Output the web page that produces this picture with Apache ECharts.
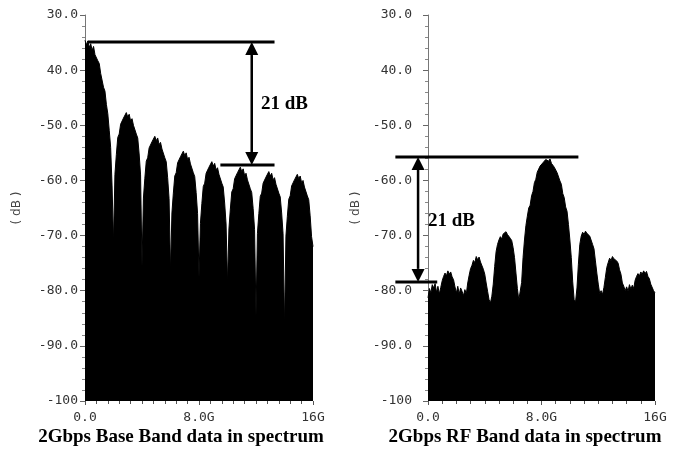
<!DOCTYPE html>
<html>
<head>
    <meta charset="utf-8">
    <title>2Gbps spectrum</title>
    <script src="https://cdn.jsdelivr.net/npm/echarts@6/dist/echarts.min.js"></script>
    <style>
        html, body { margin: 0; padding: 0; background: #fff; }
        #main { width: 690px; height: 450px; }
    </style>
</head>
<body>
<div id="main"></div>
<script>
    // 频率采样步长 (GHz)，数据从 0 开始
    var FREQ_STEP = 0.1;

    // 左图：基带频谱 (dB)，0.0G ~ 16.0G
    var baseBandLevels = [
        // 0.0 - 1.9
        -34.6, -35.4, -34.7, -35.9, -35.2, -36.4, -35.7, -37.2, -36.9, -38.3,
        -38.8, -40.6, -40.9, -43.1, -43.8, -46.2, -47.9, -50.9, -54.0, -61.0,
        // 2.0 - 3.9
        -71.2, -58.9, -55.3, -52.2, -51.6, -49.8, -50.1, -48.7, -49.0, -47.7,
        -48.5, -48.0, -49.2, -48.8, -50.0, -49.7, -51.6, -52.3, -55.2, -59.0,
        // 4.0 - 5.9
        -75.6, -63.2, -59.6, -56.5, -55.9, -54.1, -54.4, -53.0, -53.3, -52.0,
        -52.8, -52.3, -53.5, -53.1, -54.3, -54.0, -55.9, -56.6, -59.5, -63.3,
        // 6.0 - 7.9
        -76.5, -65.9, -62.3, -59.2, -58.6, -56.8, -57.1, -55.7, -56.0, -54.7,
        -55.5, -55.0, -56.2, -55.8, -57.0, -56.7, -58.6, -59.3, -62.2, -66.0,
        // 8.0 - 9.9
        -77.6, -67.8, -64.2, -61.1, -60.5, -58.7, -59.0, -57.6, -57.9, -56.6,
        -57.4, -56.9, -58.1, -57.7, -58.9, -58.6, -60.5, -61.2, -64.1, -67.9,
        // 10.0 - 11.9
        -78.7, -68.8, -65.2, -62.1, -61.5, -59.7, -60.0, -58.6, -58.9, -57.6,
        -58.4, -57.9, -59.1, -58.7, -59.9, -59.6, -61.5, -62.2, -65.1, -68.9,
        // 12.0 - 13.9
        -84.6, -69.6, -66.0, -62.9, -62.3, -60.5, -60.8, -59.4, -59.7, -58.4,
        -59.2, -58.7, -59.9, -59.5, -60.7, -60.4, -62.3, -63.0, -65.9, -69.7,
        // 14.0 - 15.9
        -86.6, -70.1, -66.5, -63.4, -62.8, -61.0, -61.3, -59.9, -60.2, -58.9,
        -59.7, -59.2, -60.4, -60.0, -61.2, -60.9, -62.8, -63.5, -66.4, -70.2,
        // 16.0
        -72.0
    ];

    // 右图：射频频谱 (dB)，0.0G ~ 16.0G
    var rfBandLevels = [
        -81.3, -79.6, -80.4, -78.9, -79.5, -78.7, -80.3, -79.2, -80.6, -79.4,
        -78.2, -77.4, -76.8, -77.3, -76.4, -77.0, -76.6, -77.5, -78.0, -79.3,
        -80.4, -79.2, -80.6, -79.5, -80.1, -80.9, -79.8, -80.6, -78.6, -77.2,
        -76.0, -75.4, -74.5, -74.9, -73.8, -74.4, -73.9, -74.8, -75.0, -76.1,
        -77.0, -78.6, -80.1, -81.6, -82.2, -81.0, -78.8, -75.6, -72.9, -71.6,
        -70.8, -70.2, -70.6, -69.7, -69.9, -69.3, -69.8, -69.6, -70.5, -70.9,
        -72.2, -74.0, -76.8, -79.6, -81.7, -81.5, -78.5, -74.0, -70.8, -68.2,
        -66.5, -65.0, -64.5, -62.8, -62.0, -60.4, -59.8, -58.5, -58.3, -57.4,
        -57.5, -56.8, -57.0, -56.2, -56.0, -56.5, -56.1, -56.9, -56.7, -57.6,
        -57.6, -58.6, -58.9, -60.1, -60.7, -62.4, -63.1, -64.8, -65.6, -68.0,
        -70.8, -74.0, -78.4, -81.6, -82.0, -79.5, -75.2, -71.6, -70.1, -69.4,
        -69.8, -69.2, -69.6, -69.4, -70.1, -70.3, -71.6, -72.4, -74.6, -76.8,
        -78.8, -80.5, -80.0, -80.7, -79.4, -77.6, -75.8, -74.9, -74.1, -74.5,
        -73.8, -74.2, -73.9, -74.6, -75.0, -76.2, -77.0, -78.6, -79.2, -80.0,
        -79.3, -80.1, -78.9, -79.7, -79.0, -79.6, -78.1, -77.4, -76.9, -77.3,
        -76.6, -77.0, -76.4, -76.9, -76.5, -77.4, -77.8, -78.8, -79.1, -80.0,
        -80.4
    ];

    // 坐标轴刻度文字
    var xTickLabels = {0: '0.0', 8: '8.0G', 16: '16G'};
    var yTickLabels = {
        '-30': '30.0', '-40': '40.0', '-50': '-50.0', '-60': '-60.0',
        '-70': '-70.0', '-80': '-80.0', '-90': '-90.0', '-100': '-100'
    };

    // 标注 ([频率, dB])
    var baseTopLine = [[0.2, -34.9], [13.3, -34.9]];
    var baseBottomLine = [[9.5, -57.2], [13.3, -57.2]];
    var baseArrow = [[11.7, -34.9], [11.7, -57.2]];
    var baseNote = [12.35, -46.1];
    var rfTopLine = [[-2.3, -55.75], [10.6, -55.75]];
    var rfBottomLine = [[-2.3, -78.4], [0.65, -78.4]];
    var rfArrow = [[-0.7, -55.75], [-0.7, -78.4]];
    var rfNote = [0.0, -67.4];
    var noteText = '21 dB';

    var titles = ['2Gbps Base Band data in spectrum', '2Gbps RF Band data in spectrum'];

    function toPairs(levels) {
        var out = [];
        for (var i = 0; i < levels.length; i++) {
            out.push([Math.round(i * FREQ_STEP * 10) / 10, levels[i]]);
        }
        return out;
    }

    var tickFont = {color: '#333', fontFamily: 'DejaVu Sans Mono', fontSize: 13};

    function xAxisOf(grid, split) {
        return {
            type: 'value', gridIndex: grid, min: 0, max: 16, interval: 8,
            axisLine: {show: false},
            axisTick: {show: true, length: 4, lineStyle: {color: '#555'}},
            minorTick: {show: true, splitNumber: split, length: 3, lineStyle: {color: '#555'}},
            splitLine: {show: false},
            axisLabel: Object.assign({
                margin: 10,
                formatter: function (v) { return xTickLabels[v] || ''; }
            }, tickFont)
        };
    }

    function yAxisOf(grid, margin, gap) {
        return {
            type: 'value', gridIndex: grid, min: -100, max: -30, interval: 10,
            name: '( dB )', nameLocation: 'middle', nameRotate: 90, nameGap: gap,
            nameTextStyle: {color: '#444', fontFamily: 'DejaVu Sans', fontSize: 12},
            axisLine: {show: true, lineStyle: {color: '#777', width: 1}},
            axisTick: {show: true, length: 5, lineStyle: {color: '#666'}},
            minorTick: {show: true, splitNumber: 5, length: 3, lineStyle: {color: '#888'}},
            splitLine: {show: false},
            axisLabel: Object.assign({
                margin: margin,
                formatter: function (v) { return yTickLabels[String(v)] || ''; }
            }, tickFont)
        };
    }

    function spectrumSeries(idx, levels) {
        return {
            type: 'line', xAxisIndex: idx, yAxisIndex: idx,
            data: toPairs(levels),
            showSymbol: false, symbol: 'none', sampling: null, animation: false,
            lineStyle: {color: '#000', width: 1},
            areaStyle: {color: '#000', opacity: 1, origin: 'start'}
        };
    }

    var chart = echarts.init(document.getElementById('main'));
    chart.setOption({
        animation: false,
        backgroundColor: '#fff',
        grid: [
            {left: 85, top: 15, width: 228, height: 386},
            {left: 428, top: 15, width: 227, height: 386}
        ],
        xAxis: [xAxisOf(0, 10), xAxisOf(1, 8)],
        yAxis: [yAxisOf(0, 7, 62), yAxisOf(1, 16, 66)],
        series: [spectrumSeries(0, baseBandLevels), spectrumSeries(1, rfBandLevels)]
    });

    // 标注线和箭头，用坐标系换算成像素
    function px(grid, p) {
        return chart.convertToPixel({gridIndex: grid}, p);
    }

    function hLine(grid, seg) {
        var a = px(grid, seg[0]), b = px(grid, seg[1]);
        return {type: 'line', z: 10, shape: {x1: a[0], y1: a[1], x2: b[0], y2: b[1]},
            style: {stroke: '#000', lineWidth: 3}};
    }

    function arrow(grid, seg) {
        var a = px(grid, seg[0]), b = px(grid, seg[1]);
        var head = 13, half = 6.5;
        return [
            {type: 'line', z: 10, shape: {x1: a[0], y1: a[1] + head, x2: b[0], y2: b[1] - head},
                style: {stroke: '#000', lineWidth: 2.5}},
            {type: 'polygon', z: 10, shape: {points: [[a[0], a[1]], [a[0] - half, a[1] + head], [a[0] + half, a[1] + head]]},
                style: {fill: '#000'}},
            {type: 'polygon', z: 10, shape: {points: [[b[0], b[1]], [b[0] - half, b[1] - head], [b[0] + half, b[1] - head]]},
                style: {fill: '#000'}}
        ];
    }

    function note(grid, p) {
        var a = px(grid, p);
        return {type: 'text', z: 10, x: a[0], y: a[1],
            style: {text: noteText, fill: '#000', font: 'bold 19px "Liberation Serif"', align: 'left', verticalAlign: 'middle'}};
    }

    function title(x, text) {
        return {type: 'text', z: 10, x: x, y: 437,
            style: {text: text, fill: '#000', font: 'bold 19px "Liberation Serif"', align: 'center', verticalAlign: 'middle'}};
    }

    var g = [];
    g.push(hLine(0, baseTopLine), hLine(0, baseBottomLine));
    g = g.concat(arrow(0, baseArrow));
    g.push(note(0, baseNote));
    g.push(hLine(1, rfTopLine), hLine(1, rfBottomLine));
    g = g.concat(arrow(1, rfArrow));
    g.push(note(1, rfNote));
    g.push(title(181, titles[0]), title(525, titles[1]));

    chart.setOption({graphic: g});
</script>
</body>
</html>
